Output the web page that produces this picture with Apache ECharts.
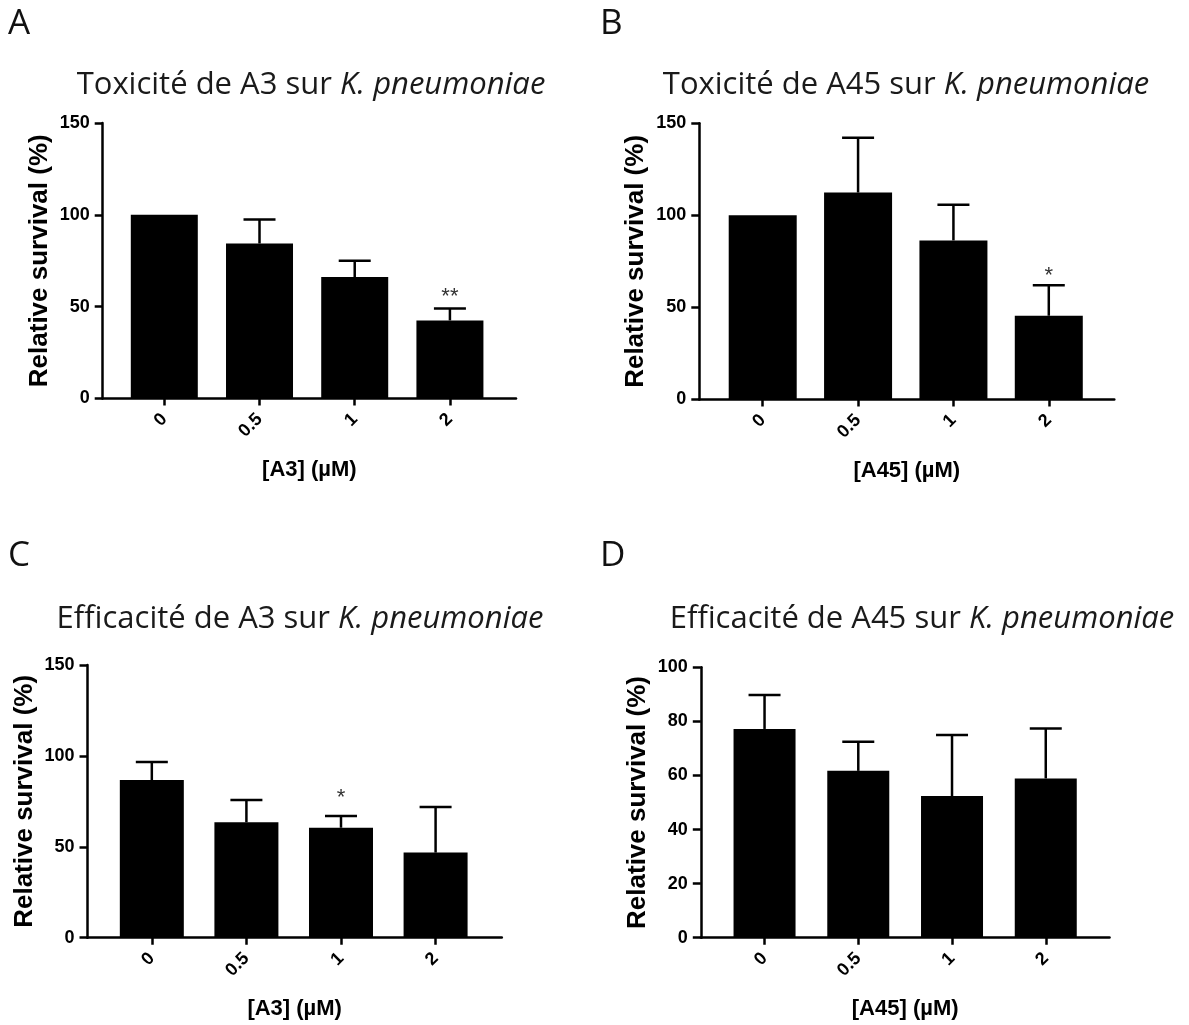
<!DOCTYPE html>
<html>
<head>
<meta charset="utf-8">
<title>Survie relative de K. pneumoniae</title>
<script src="https://cdn.jsdelivr.net/npm/echarts@6/dist/echarts.min.js"></script>
<style>
  html, body { margin: 0; padding: 0; background: #ffffff; }
  #chart { width: 1189px; height: 1025px; }
</style>
</head>
<body>
<div id="chart"></div>
<script>
// Concentrations tested (category labels on every x axis)
const concentrations = ['0', '0.5', '1', '2'];

// Panel A: toxicity of A3
const toxA3Mean = [100, 84.4, 66.1, 42.5];
const toxA3Err  = [0, 13.0, 8.9, 6.5];
const toxA3Sig  = ['', '', '', '**'];

// Panel B: toxicity of A45
const toxA45Mean = [100, 112.4, 86.4, 45.5];
const toxA45Err  = [0, 29.8, 19.3, 16.5];
const toxA45Sig  = ['', '', '', '*'];

// Panel C: efficacy of A3
const effA3Mean = [86.7, 63.5, 60.5, 46.8];
const effA3Err  = [9.9, 12.3, 6.4, 25.1];
const effA3Sig  = ['', '', '*', ''];

// Panel D: efficacy of A45
const effA45Mean = [77.2, 61.7, 52.4, 58.9];
const effA45Err  = [12.6, 10.8, 22.6, 18.5];
const effA45Sig  = ['', '', '', ''];

// Y axis ranges
const yMaxToxA3 = 150, yStepToxA3 = 50;
const yMaxToxA45 = 150, yStepToxA45 = 50;
const yMaxEffA3 = 150, yStepEffA3 = 50;
const yMaxEffA45 = 100, yStepEffA45 = 20;

const panels = [
  { letter: 'A', title: 'Toxicité de A3 sur ', xName: '[A3] (µM)',
    mean: toxA3Mean, err: toxA3Err, sig: toxA3Sig, yMax: yMaxToxA3, yStep: yStepToxA3,
    grid: { left: 102.7, top: 123, width: 413.3, height: 275.5 },
    xMin: -0.647, xMax: 3.694, barWidth: 67, starGap: 12,
    titleX: 311, titleY: 85, letterX: 8, letterY: 24 },
  { letter: 'B', title: 'Toxicité de A45 sur ', xName: '[A45] (µM)',
    mean: toxA45Mean, err: toxA45Err, sig: toxA45Sig, yMax: yMaxToxA45, yStep: yStepToxA45,
    grid: { left: 699.3, top: 123.3, width: 415, height: 276.2 },
    xMin: -0.665, xMax: 3.687, barWidth: 68, starGap: 9,
    titleX: 906, titleY: 85, letterX: 600, letterY: 24 },
  { letter: 'C', title: 'Efficacité de A3 sur ', xName: '[A3] (µM)',
    mean: effA3Mean, err: effA3Err, sig: effA3Sig, yMax: yMaxEffA3, yStep: yStepEffA3,
    grid: { left: 87.5, top: 665, width: 414.3, height: 272.7 },
    xMin: -0.68, xMax: 3.70, barWidth: 64, starGap: 18,
    titleX: 300, titleY: 619, letterX: 8, letterY: 556 },
  { letter: 'D', title: 'Efficacité de A45 sur ', xName: '[A45] (µM)',
    mean: effA45Mean, err: effA45Err, sig: effA45Sig, yMax: yMaxEffA45, yStep: yStepEffA45,
    grid: { left: 700.8, top: 667.3, width: 408.7, height: 270.4 },
    xMin: -0.68, xMax: 3.68, barWidth: 62, starGap: 12,
    titleX: 922, titleY: 619, letterX: 600, letterY: 556 }
];

const tickIdx = concentrations.map((c, i) => i);
const axisFont = 'Liberation Sans, Arial, sans-serif';
const titleFont = 'Open Sans, sans-serif';
const ink = '#000000';

const grids = [], xAxes = [], yAxes = [], series = [], graphics = [];

panels.forEach((p, k) => {
  grids.push(Object.assign({ containLabel: false }, p.grid));

  xAxes.push({
    gridIndex: k, type: 'value', min: p.xMin, max: p.xMax,
    name: p.xName, nameLocation: 'middle', nameGap: 60,
    nameTextStyle: { fontFamily: axisFont, fontWeight: 'bold', fontSize: 22, color: ink },
    axisLine: { show: true, onZero: false, lineStyle: { color: ink, width: 2.5 } },
    axisTick: { show: true, customValues: tickIdx, length: 7, lineStyle: { color: ink, width: 2.5 } },
    axisLabel: {
      customValues: tickIdx, rotate: 45, margin: 18,
      fontFamily: axisFont, fontWeight: 'bold', fontSize: 18, color: ink,
      formatter: v => concentrations[Math.round(v)]
    },
    splitLine: { show: false }
  });

  yAxes.push({
    gridIndex: k, type: 'value', min: 0, max: p.yMax, interval: p.yStep,
    name: 'Relative survival (%)', nameLocation: 'middle', nameGap: 50,
    nameTextStyle: { fontFamily: axisFont, fontWeight: 'bold', fontSize: 26, color: ink },
    axisLine: { show: true, onZero: false, lineStyle: { color: ink, width: 2.5 } },
    axisTick: { show: true, length: 8, lineStyle: { color: ink, width: 2.5 } },
    axisLabel: { margin: 13, fontFamily: axisFont, fontWeight: 'bold', fontSize: 18, color: ink },
    splitLine: { show: false }
  });

  series.push({
    type: 'bar', xAxisIndex: k, yAxisIndex: k,
    barWidth: p.barWidth,
    itemStyle: { color: ink },
    data: p.mean.map((v, i) => [i, v]),
    silent: true, animation: false
  });

  series.push({
    type: 'custom', xAxisIndex: k, yAxisIndex: k,
    data: p.mean.map((v, i) => [i, v, p.err[i]]),
    animation: false, silent: true, z: 3,
    renderItem: (params, api) => {
      const i = api.value(0), m = api.value(1), e = api.value(2);
      const star = p.sig[params.dataIndex];
      const base = api.coord([i, m]);
      const top = api.coord([i, m + e]);
      const children = [];
      if (e > 0) {
        const style = { stroke: ink, lineWidth: 2.5 };
        children.push({ type: 'line', shape: { x1: base[0], y1: base[1], x2: top[0], y2: top[1] }, style });
        children.push({ type: 'line', shape: { x1: top[0] - 16, y1: top[1], x2: top[0] + 16, y2: top[1] }, style });
      }
      if (star) {
        children.push({
          type: 'text',
          style: {
            x: top[0], y: top[1] - p.starGap, text: star,
            align: 'center', verticalAlign: 'middle',
            font: '22px ' + axisFont, fill: '#333333'
          }
        });
      }
      return { type: 'group', children };
    }
  });

  graphics.push({
    type: 'text', x: p.titleX, y: p.titleY,
    style: {
      text: '{r|' + p.title + '}{i|K. pneumoniae}',
      align: 'center', verticalAlign: 'middle',
      rich: {
        r: { fontFamily: titleFont, fontSize: 31, fill: '#1a1a1a', fontStyle: 'normal' },
        i: { fontFamily: titleFont, fontSize: 31, fill: '#1a1a1a', fontStyle: 'italic' }
      }
    }
  });
  graphics.push({
    type: 'text', x: p.letterX, y: p.letterY,
    style: {
      text: p.letter, align: 'left', verticalAlign: 'middle',
      font: '35px ' + titleFont, fill: '#111111'
    }
  });
});

const chart = echarts.init(document.getElementById('chart'), null, { renderer: 'canvas' });
chart.setOption({
  animation: false,
  backgroundColor: '#ffffff',
  grid: grids,
  xAxis: xAxes,
  yAxis: yAxes,
  series: series,
  graphic: graphics
});
</script>
</body>
</html>
